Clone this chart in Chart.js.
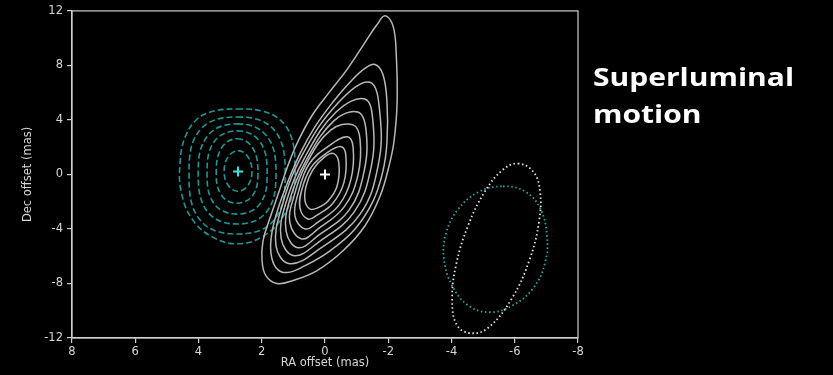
<!DOCTYPE html>
<html>
<head>
<meta charset="utf-8">
<script src="https://cdn.jsdelivr.net/npm/chart.js@4.4.1/dist/chart.umd.min.js"></script>
<style>
  html, body { margin: 0; padding: 0; background: #000; }
  #wrap { position: relative; width: 833px; height: 375px; }
  #title {
    position: absolute; left: 593px; top: 58px; color: #fff;
    font: bold 25px "Open Sans", sans-serif; line-height: 37px;
    transform: scaleX(1.2); transform-origin: left top;
  }
</style>
</head>
<body>
<div id="wrap">
  <canvas id="myChart" width="833" height="375"></canvas>
  <div id="title">Superluminal<br>motion</div>
</div>
<script>
// RA / Dec offsets in mas
const xTicks = [8, 6, 4, 2, 0, -2, -4, -6, -8];
const yTicks = [12, 8, 4, 0, -4, -8, -12];

// jet contours (solid, grey), outermost first
const whiteContours = [
  [[-1.90,11.64],[-2.15,10.9],[-2.25,8.95],[-2.28,5.3],[-2.18,2.4],[-2.02,0.58],[-1.74,-1.6],[-1.26,-3.78],[-0.57,-5.6],[0.25,-7.05],[1.01,-7.78],[1.52,-8.0],[1.87,-7.42],[1.99,-6.33],[1.96,-4.87],[1.74,-3.2],[1.45,-1.24],[1.18,0.6],[0.86,2.4],[0.40,4.36],[-0.14,6.04],[-0.70,7.71],[-1.20,9.45],[-1.64,10.98]],
  [[-1.58,8.07],[-1.83,7.35],[-1.96,5.31],[-1.96,2.40],[-1.83,0.22],[-1.52,-1.96],[-0.95,-4.0],[-0.16,-5.6],[0.63,-6.69],[1.20,-7.2],[1.55,-6.84],[1.71,-5.75],[1.68,-4.29],[1.49,-2.55],[1.17,-0.51],[0.79,1.53],[0.32,3.49],[-0.25,5.31],[-0.79,6.76],[-1.26,7.78]],
  [[-1.42,6.76],[-1.74,4.36],[-1.68,0.65],[-1.11,-2.91],[0.16,-5.45],[1.11,-6.55],[1.55,-5.24],[1.36,-2.33],[0.73,1.38],[-0.41,5.24]],
  [[-1.26,5.53],[-1.52,3.78],[-1.45,0.44],[-0.92,-2.76],[0.19,-4.95],[0.98,-5.96],[1.39,-4.65],[1.23,-2.04],[0.66,1.16],[-0.35,4.58]],
  [[-1.04,4.58],[-1.30,3.20],[-1.23,0.15],[-0.76,-2.62],[0.19,-4.44],[0.85,-5.38],[1.23,-4.15],[1.11,-1.82],[0.60,1.02],[-0.28,3.93]],
  [[-0.89,3.64],[-1.11,2.55],[-1.04,-0.07],[-0.60,-2.40],[0.22,-4.00],[0.73,-4.73],[1.11,-3.56],[0.98,-1.60],[0.57,0.87],[-0.19,3.27]],
  [[-0.70,2.76],[-0.89,1.96],[-0.82,-0.36],[-0.44,-2.25],[0.22,-3.49],[0.63,-4.00],[0.95,-3.05],[0.85,-1.38],[0.51,0.73],[-0.09,2.04]],
  [[-0.51,2.04],[-0.66,1.38],[-0.60,-0.58],[-0.25,-2.11],[0.25,-2.98],[0.54,-3.27],[0.79,-2.47],[0.73,-1.09],[0.44,0.51],[-0.03,1.53]],
  [[-0.28,1.53],[-0.44,0.80],[-0.38,-0.87],[-0.09,-1.96],[0.25,-2.47],[0.47,-2.55],[0.63,-1.96],[0.60,-0.87],[0.38,0.36],[0.00,1.31]]
];

// core contours (dashed, teal), outermost first
const tealContours = [
  [[2.78,4.80],[1.99,4.65],[1.42,4.00],[1.07,2.76],[0.95,0.94],[1.01,-1.24],[1.36,-3.20],[1.99,-4.58],[2.78,-5.09],[3.57,-4.58],[4.20,-3.28],[4.55,-1.24],[4.58,0.94],[4.42,2.76],[4.04,4.07],[3.51,4.65]],
  [[2.78,4.22],[1.61,3.27],[1.26,0.07],[1.61,-3.35],[2.78,-4.37],[3.95,-3.35],[4.30,0.07],[3.95,3.27]],
  [[2.78,3.71],[1.85,2.84],[1.55,0.07],[1.85,-2.75],[2.78,-3.64],[3.71,-2.75],[4.01,0.07],[3.71,2.84]],
  [[2.78,3.20],[2.06,2.42],[1.83,0.07],[2.06,-2.17],[2.78,-2.91],[3.50,-2.17],[3.73,0.07],[3.50,2.42]],
  [[2.78,2.62],[2.29,1.96],[2.12,0.07],[2.29,-1.54],[2.78,-2.11],[3.27,-1.54],[3.44,0.07],[3.27,1.96]],
  [[2.75,1.75],[2.44,1.30],[2.31,0.22],[2.44,-0.81],[2.75,-1.23],[3.06,-0.81],[3.19,0.22],[3.06,1.30]]
];

// restoring beams (dotted ellipses)
const whiteBeam = [[-6.10,0.80],[-6.58,0.22],[-6.80,-1.24],[-6.77,-3.42],[-6.48,-6.18],[-5.91,-9.09],[-5.15,-11.27],[-4.59,-11.64],[-4.17,-11.05],[-4.02,-9.24],[-4.14,-6.69],[-4.52,-3.78],[-5.06,-1.24],[-5.63,0.36]];
const tealBeam = [[-5.63,-0.87],[-6.32,-1.24],[-6.80,-2.47],[-7.02,-4.51],[-6.96,-6.47],[-6.58,-8.36],[-5.94,-9.6],[-5.22,-10.11],[-4.52,-9.6],[-4.02,-8.15],[-3.76,-6.18],[-3.83,-4.29],[-4.21,-2.55],[-4.84,-1.31]];

// peak positions
const whitePeak = [0.0, 0.0];
const tealPeak = [2.75, 0.22];

const toXY = pts => pts.map(([x, y]) => ({x, y}));
const axisColor = "#cfcfcf";
const textColor = "#d6d6d6";

const datasets = [
  { data: toXY([whitePeak]), pointStyle: "cross", pointRadius: 5, pointBorderWidth: 2, borderColor: "#ffffff" },
  { data: toXY([tealPeak]), pointStyle: "cross", pointRadius: 5, pointBorderWidth: 2, borderColor: "#34e6e0" },
];
whiteContours.forEach(c => datasets.push({
  data: toXY(c), closed: true, showLine: true, pointRadius: 0, tension: 0.4,
  borderColor: "rgb(184, 184, 184)", borderWidth: 1.5,
}));
tealContours.forEach(c => datasets.push({
  data: toXY(c), closed: true, showLine: true, pointRadius: 0, tension: 0.4,
  borderColor: "rgb(28, 150, 152)", borderWidth: 1.6, borderDash: [6, 3],
}));
datasets.push({
  data: toXY(whiteBeam), closed: true, showLine: true, pointRadius: 0, tension: 0.4,
  borderColor: "#e4e4e4", borderWidth: 1.8, borderDash: [1.5, 2.6],
});
datasets.push({
  data: toXY(tealBeam), closed: true, showLine: true, pointRadius: 0, tension: 0.4,
  borderColor: "rgb(38, 168, 174)", borderWidth: 1.8, borderDash: [1.5, 2.6],
});

// contours are closed curves: tell the line elements to loop like radar lines do
const closeLoops = {
  id: "closeLoops",
  afterDatasetsUpdate(chart) {
    chart.data.datasets.forEach((ds, i) => {
      const line = chart.getDatasetMeta(i).dataset;
      if (line && ds.closed) {
        line._loop = true;
        line._fullLoop = true;
        line._segments = undefined;
        line._path = undefined;
        line._pointsUpdated = false;
      }
    });
  },
};

// matplotlib style box around the axes
const frame = {
  id: "frame",
  beforeDatasetsDraw(chart) {
    const { ctx, chartArea: a } = chart;
    ctx.save();
    ctx.strokeStyle = axisColor;
    ctx.lineWidth = 1.2;
    ctx.strokeRect(a.left, a.top, a.width, a.height);
    ctx.restore();
  },
};

Chart.defaults.font.family = "'DejaVu Sans', sans-serif";

new Chart(document.getElementById("myChart"), {
  type: "scatter",
  data: { datasets },
  plugins: [closeLoops, frame],
  options: {
    responsive: false,
    animation: false,
    events: [],
    layout: { padding: { left: 0, right: 255, top: 8, bottom: 0 } },
    plugins: { legend: { display: false }, tooltip: { enabled: false } },
    scales: {
      x: {
        type: "linear", reverse: true,
        min: xTicks[xTicks.length - 1], max: xTicks[0],
        afterBuildTicks: s => { s.ticks = xTicks.map(v => ({ value: v })); },
        afterFit: s => { s.height = 37; },
        ticks: { color: textColor, font: { size: 11.5 }, padding: 2, maxRotation: 0 },
        grid: { drawOnChartArea: false, drawTicks: true, tickLength: 5, color: axisColor, lineWidth: 1.2 },
        border: { display: true, color: axisColor, width: 1.2 },
        title: { display: true, text: "RA offset (mas)", color: textColor, font: { size: 11.5 }, padding: { top: 0, bottom: 5 } },
      },
      y: {
        type: "linear",
        min: yTicks[yTicks.length - 1], max: yTicks[0],
        afterBuildTicks: s => { s.ticks = yTicks.map(v => ({ value: v })); },
        afterFit: s => { s.width = 72; },
        ticks: { color: textColor, font: { size: 11.5 }, padding: 4 },
        grid: { drawOnChartArea: false, drawTicks: true, tickLength: 5, color: axisColor, lineWidth: 1.2 },
        border: { display: true, color: axisColor, width: 1.2 },
        title: { display: true, text: "Dec offset (mas)", color: textColor, font: { size: 11.5 }, padding: { top: 21, bottom: 0 } },
      },
    },
  },
});
</script>
</body>
</html>
